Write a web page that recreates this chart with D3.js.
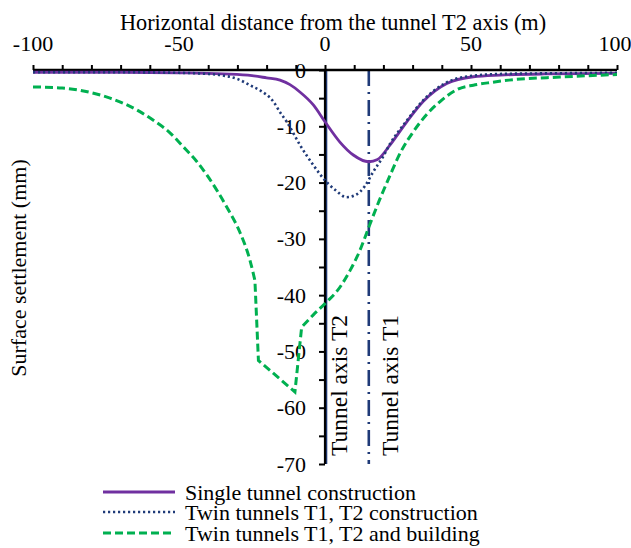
<!DOCTYPE html>
<html>
<head>
<meta charset="utf-8">
<script src="https://cdn.jsdelivr.net/npm/d3@7"></script>
<style>
  html, body { margin: 0; padding: 0; background: #fff; }
  svg { display: block; }
</style>
</head>
<body>
<div id="chart"></div>
<script>
// ---- data ----
const xTickLabels = [-100, -50, 0, 50, 100];
const yTickLabels = [0, -10, -20, -30, -40, -50, -60, -70];

const seriesNames = [
  "Single tunnel construction",
  "Twin tunnels T1, T2 construction",
  "Twin tunnels T1, T2 and building"
];

// Single tunnel construction
const singleX = [-100, -70, -50, -35, -25, -20, -15.4, -12, -8.6, -4, 0, 5.1, 9.7, 15, 18, 22.3, 28, 33.6, 41.7, 50.8, 60, 75, 100];
const singleY = [-0.4, -0.4, -0.5, -0.7, -1.0, -1.4, -1.8, -2.6, -3.9, -6.2, -9.2, -12.8, -15.1, -16.3, -15.9, -13.3, -9.2, -5.6, -2.4, -1.2, -0.9, -0.7, -0.6];

// Twin tunnels T1, T2 construction
const twinX = [-100, -70, -50, -40, -36, -30, -24.6, -22.3, -17.7, -15.4, -13.1, -8.6, -4, 0, 3.5, 7.4, 10.5, 13.7, 16.5, 20, 22.3, 28, 33.6, 41.7, 50.8, 60, 75, 100];
const twinY = [-0.4, -0.4, -0.5, -0.7, -0.9, -1.6, -3.0, -3.6, -5.6, -7.5, -9.2, -13.3, -16.9, -19.6, -21.3, -22.6, -22.2, -20.6, -18.1, -15.3, -13.1, -9.0, -5.4, -2.2, -1.0, -0.7, -0.6, -0.5];

// Twin tunnels T1, T2 and building
const buildX = [-100, -90, -84, -73.6, -63.4, -58.9, -53, -48.6, -44, -40, -33.7, -29, -25.7, -24, -22.8, -10.3, -8, -4, 0, 5.1, 8.6, 12, 14.8, 18.5, 22.3, 26, 30.2, 35, 39.4, 46, 50.8, 57, 63, 80.5, 100];
const buildY = [-3.0, -3.2, -3.6, -5.0, -7.4, -8.9, -11.2, -13.6, -16.2, -19.0, -24.3, -29.0, -33.8, -37.4, -51.6, -57.2, -45.7, -43.5, -41.5, -38.6, -35.6, -32.0, -28.2, -23.3, -18.7, -14.5, -11.0, -7.8, -5.6, -3.3, -2.7, -2.2, -1.8, -1.25, -0.8];
// indices where the building curve has sharp corners
const buildCornerStart = 13; // x = -24
const buildCornerEnd = 16;   // x = -8

const tunnelAxes = [
  { name: "Tunnel axis T2", x: 0 },
  { name: "Tunnel axis T1", x: 15 }
];

// ---- layout ----
const W = 631, H = 548;
const margin = { left: 33, right: 14, top: 70, bottom: 84 };
const FONT = "'Liberation Serif', 'Times New Roman', Times, 'DejaVu Serif', serif";

const svg = d3.select("#chart").append("svg")
  .attr("width", W).attr("height", H)
  .attr("font-family", FONT)
  .style("font-family", FONT);

const x = d3.scaleLinear().domain([-100, 100]).range([margin.left, W - margin.right]);
const y = d3.scaleLinear().domain([0, -70]).range([margin.top, H - margin.bottom]);

const FS = 22;

function txt(sel) {
  return sel.attr("font-family", FONT).style("font-family", FONT).attr("fill", "#000");
}

// ---- tunnel axis lines ----
const T2 = tunnelAxes[0], T1 = tunnelAxes[1];
svg.append("line")
  .attr("x1", x(T2.x) + 0.8).attr("x2", x(T2.x) + 0.8)
  .attr("y1", y(0)).attr("y2", y(-70))
  .attr("stroke", "#1f3a78").attr("stroke-width", 3);
svg.append("line")
  .attr("x1", x(T1.x)).attr("x2", x(T1.x))
  .attr("y1", y(0)).attr("y2", y(-70))
  .attr("stroke", "#1f3a78").attr("stroke-width", 2.6)
  .attr("stroke-dasharray", "16 6 2 6");

// ---- axes ----
const xAxis = d3.axisTop(x)
  .tickValues(d3.range(-100, 101, 10))
  .tickSize(5)
  .tickFormat(() => "");
const gx = svg.append("g").attr("transform", `translate(0,${y(0)})`).call(xAxis);
gx.select(".domain").attr("stroke", "#000").attr("stroke-width", 2.4).attr("d", `M${x(-100)},0H${x(100)}`);
gx.selectAll(".tick line").attr("stroke", "#000").attr("stroke-width", 2);

txt(svg.append("g").selectAll("text").data(xTickLabels).join("text"))
  .attr("x", d => x(d) - (d === 100 ? 2 : 0)).attr("y", 50.5)
  .attr("text-anchor", "middle")
  .style("font-size", FS + "px")
  .text(d => d);

const yAxis = d3.axisLeft(y)
  .tickValues(d3.range(0, -71, -5))
  .tickSize(6)
  .tickFormat(() => "");
const gy = svg.append("g").attr("transform", `translate(${x(0)},0)`).call(yAxis);
gy.select(".domain").attr("stroke", "#000").attr("stroke-width", 2.2).attr("d", `M0,${y(0)}V${y(-70)}`);
gy.selectAll(".tick line").attr("stroke", "#000").attr("stroke-width", 2);

txt(svg.append("g").selectAll("text").data(yTickLabels).join("text"))
  .attr("x", x(0) - 19).attr("y", d => y(d))
  .attr("text-anchor", "end")
  .attr("dominant-baseline", "central")
  .style("font-size", FS + "px")
  .text(d => d);

// axis titles
txt(svg.append("text"))
  .attr("x", 333).attr("y", 29.5)
  .attr("text-anchor", "middle")
  .style("font-size", "22.3px")
  .text("Horizontal distance from the tunnel T2 axis (m)");

txt(svg.append("text"))
  .attr("transform", `translate(26,268) rotate(-90)`)
  .attr("text-anchor", "middle")
  .style("font-size", FS + "px")
  .text("Surface settlement (mm)");

// tunnel axis labels
txt(svg.append("text"))
  .attr("transform", `translate(${x(T2.x) + 22},456) rotate(-90)`)
  .attr("text-anchor", "start")
  .style("font-size", "23.5px")
  .text(T2.name);
txt(svg.append("text"))
  .attr("transform", `translate(${x(T1.x) + 29},456) rotate(-90)`)
  .attr("text-anchor", "start")
  .style("font-size", "23.5px")
  .text(T1.name);

// ---- curves ----
const smooth = d3.line().x(d => x(d[0])).y(d => y(d[1])).curve(d3.curveMonotoneX);
const straight = d3.line().x(d => x(d[0])).y(d => y(d[1]));

const singlePts = singleX.map((v, i) => [v, singleY[i]]);
const twinPts = twinX.map((v, i) => [v, twinY[i]]);
const buildPts = buildX.map((v, i) => [v, buildY[i]]);

const styles = [
  { color: "#7030a0", width: 2.8, dash: null },
  { color: "#1f3a78", width: 2.6, dash: "2.2 2.8" },
  { color: "#00b050", width: 3, dash: "8 4" }
];

svg.append("path").attr("d", smooth(singlePts))
  .attr("fill", "none").attr("stroke", styles[0].color).attr("stroke-width", styles[0].width);

svg.append("path").attr("d", smooth(twinPts))
  .attr("fill", "none").attr("stroke", styles[1].color).attr("stroke-width", styles[1].width)
  .attr("stroke-dasharray", styles[1].dash);

const partA = buildPts.slice(0, buildCornerStart + 1);
const partB = buildPts.slice(buildCornerStart, buildCornerEnd + 1);
const partC = buildPts.slice(buildCornerEnd);
const buildD = smooth(partA) + straight(partB).replace(/^M/, "L") + smooth(partC).replace(/^M/, "L");
svg.append("path").attr("d", buildD)
  .attr("fill", "none").attr("stroke", styles[2].color).attr("stroke-width", styles[2].width)
  .attr("stroke-dasharray", styles[2].dash);

// ---- legend ----
const legend = svg.append("g");
const legY = [492, 512, 533];
seriesNames.forEach((name, i) => {
  legend.append("line")
    .attr("x1", 103).attr("x2", 175)
    .attr("y1", legY[i]).attr("y2", legY[i])
    .attr("stroke", styles[i].color).attr("stroke-width", styles[i].width)
    .attr("stroke-dasharray", styles[i].dash);
  txt(legend.append("text"))
    .attr("x", 185).attr("y", legY[i] + 7.5)
    .style("font-size", FS + "px")
    .text(name);
});
</script>
</body>
</html>
